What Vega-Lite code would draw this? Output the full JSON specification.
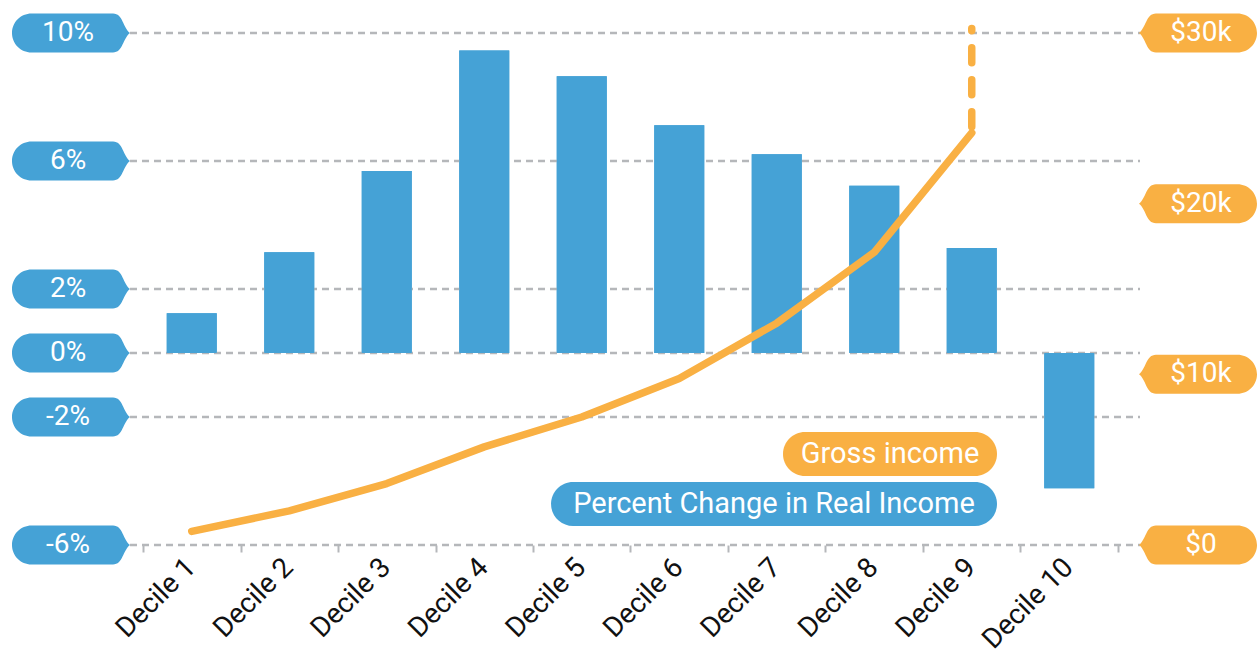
{
  "$schema": "https://vega.github.io/schema/vega-lite/v6.json",
  "width": 1259,
  "height": 545,
  "autosize": {"type": "none"},
  "padding": {"left": 0, "top": 0, "right": 0, "bottom": 111},
  "config": {"view": {"stroke": null}, "font": "Roboto", "scale": {"continuousPadding": 0}},
  "datasets": {
    "deciles": [
      {"decile": "Decile 1", "i": 1, "pct": 1.24, "income": 0.8},
      {"decile": "Decile 2", "i": 2, "pct": 3.15, "income": 2.0},
      {"decile": "Decile 3", "i": 3, "pct": 5.69, "income": 3.6},
      {"decile": "Decile 4", "i": 4, "pct": 9.45, "income": 5.75},
      {"decile": "Decile 5", "i": 5, "pct": 8.65, "income": 7.5},
      {"decile": "Decile 6", "i": 6, "pct": 7.12, "income": 9.75},
      {"decile": "Decile 7", "i": 7, "pct": 6.21, "income": 13.0},
      {"decile": "Decile 8", "i": 8, "pct": 5.23, "income": 17.15},
      {"decile": "Decile 9", "i": 9, "pct": 3.28, "income": 24.15},
      {"decile": "Decile 10", "i": 10, "pct": -4.23}
    ],
    "extension": [{"i": 9, "from": 24.5, "to": 30.26}],
    "pctTicks": [
      {"pct": 10, "label": "10%"},
      {"pct": 6, "label": "6%"},
      {"pct": 2, "label": "2%"},
      {"pct": 0, "label": "0%"},
      {"pct": -2, "label": "-2%"},
      {"pct": -6, "label": "-6%"}
    ],
    "usdTicks": [
      {"usd": 30, "label": "$30k"},
      {"usd": 20, "label": "$20k"},
      {"usd": 10, "label": "$10k"},
      {"usd": 0, "label": "$0"}
    ],
    "legend": [{"gross": "Gross income", "pctc": "Percent Change in Real Income"}]
  },
  "resolve": {"scale": {"y": "independent"}},
  "layer": [
    {
      "data": {"name": "deciles"},
      "mark": {"type": "bar", "width": 50, "color": "#45a2d6"},
      "encoding": {
        "x": {
          "field": "i", "type": "quantitative", "title": null,
          "scale": {"domain": [-0.9667, 11.9462], "nice": false, "zero": false, "padding": 0},
          "axis": {
            "values": [0.5, 1.5, 2.5, 3.5, 4.5, 5.5, 6.5, 7.5, 8.5, 9.5, 10.5],
            "labelExpr": "datum.value < 10 ? 'Decile ' + (datum.value + 0.5) : ''",
            "labelOffset": 38,
            "labelAngle": -45,
            "labelFontSize": 28,
            "labelFont": "Roboto",
            "labelColor": "#111111",
            "labelPadding": 1,
            "labelOverlap": false,
            "labelBound": false,
            "labelFlush": false,
            "tickColor": "#b5b7ba",
            "tickSize": 7,
            "tickWidth": 2,
            "domain": false,
            "grid": false,
            "title": null
          }
        },
        "y": {"field": "pct", "type": "quantitative", "scale": {"domain": [-6, 11.03125], "nice": false, "zero": false}, "axis": null},
        "y2": {"datum": 0}
      }
    },
    {
      "data": {"name": "pctTicks"},
      "mark": {"type": "rule", "color": "#b5b7ba", "strokeWidth": 2.5, "strokeDash": [7, 5]},
      "encoding": {
        "x": {"datum": 0.3667, "type": "quantitative", "title": null, "scale": {"domain": [-0.9667, 11.9462], "nice": false, "zero": false, "padding": 0}},
        "x2": {"datum": 10.7256},
        "y": {"field": "pct", "type": "quantitative", "scale": {"domain": [-6, 11.03125], "nice": false, "zero": false}, "axis": null}
      }
    },
    {
      "data": {"name": "deciles"},
      "mark": {"type": "bar", "width": 50, "color": "#45a2d6"},
      "encoding": {
        "x": {"field": "i", "type": "quantitative", "title": null, "scale": {"domain": [-0.9667, 11.9462], "nice": false, "zero": false, "padding": 0}},
        "y": {"field": "pct", "type": "quantitative", "scale": {"domain": [-6, 11.03125], "nice": false, "zero": false}, "axis": null},
        "y2": {"datum": 0}
      }
    },
    {
      "data": {"name": "deciles"},
      "transform": [{"filter": "isValid(datum.income)"}],
      "mark": {"type": "line", "color": "#f9b043", "strokeWidth": 7.5, "strokeCap": "round", "strokeJoin": "round"},
      "encoding": {
        "x": {"field": "i", "type": "quantitative", "title": null, "scale": {"domain": [-0.9667, 11.9462], "nice": false, "zero": false, "padding": 0}},
        "y": {"field": "income", "type": "quantitative", "scale": {"domain": [0, 31.934], "nice": false, "zero": false}, "axis": null}
      }
    },
    {
      "data": {"name": "extension"},
      "mark": {"type": "rule", "color": "#f9b043", "strokeWidth": 7.5, "strokeCap": "round", "strokeDash": [15, 17]},
      "encoding": {
        "x": {"field": "i", "type": "quantitative", "title": null, "scale": {"domain": [-0.9667, 11.9462], "nice": false, "zero": false, "padding": 0}},
        "y": {"field": "from", "type": "quantitative", "scale": {"domain": [0, 31.934], "nice": false, "zero": false}, "axis": null},
        "y2": {"field": "to"}
      }
    },
    {
      "data": {"name": "pctTicks"},
      "mark": {"type": "point", "filled": true, "opacity": 1, "color": "#45a2d6", "size": 13924, "strokeWidth": 0,
        "shape": "M -0.6695 -0.3305 L 0.712 -0.3305 C 0.881 -0.3305 0.881 -0.0847 1 0 C 0.881 0.0847 0.881 0.3305 0.712 0.3305 L -0.6695 0.3305 C -0.852 0.3305 -1 0.1825 -1 0 C -1 -0.1825 -0.852 -0.3305 -0.6695 -0.3305 Z"},
      "encoding": {
        "x": {"datum": -0.2385, "type": "quantitative", "title": null, "scale": {"domain": [-0.9667, 11.9462], "nice": false, "zero": false, "padding": 0}},
        "y": {"field": "pct", "type": "quantitative", "scale": {"domain": [-6, 11.03125], "nice": false, "zero": false}, "axis": null}
      }
    },
    {
      "data": {"name": "pctTicks"},
      "mark": {"type": "text", "color": "white", "fontSize": 28, "font": "Roboto", "align": "center", "baseline": "middle"},
      "encoding": {
        "x": {"datum": -0.269, "type": "quantitative", "title": null, "scale": {"domain": [-0.9667, 11.9462], "nice": false, "zero": false, "padding": 0}},
        "y": {"field": "pct", "type": "quantitative", "scale": {"domain": [-6, 11.03125], "nice": false, "zero": false}, "axis": null},
        "text": {"field": "label"}
      }
    },
    {
      "data": {"name": "usdTicks"},
      "mark": {"type": "point", "filled": true, "opacity": 1, "color": "#f9b043", "size": 13924, "strokeWidth": 0,
        "shape": "M 0.6695 -0.3305 L -0.712 -0.3305 C -0.881 -0.3305 -0.881 -0.0847 -1 0 C -0.881 0.0847 -0.881 0.3305 -0.712 0.3305 L 0.6695 0.3305 C 0.852 0.3305 1 0.1825 1 0 C 1 -0.1825 0.852 -0.3305 0.6695 -0.3305 Z"},
      "encoding": {
        "x": {"datum": 11.3205, "type": "quantitative", "title": null, "scale": {"domain": [-0.9667, 11.9462], "nice": false, "zero": false, "padding": 0}},
        "y": {"field": "usd", "type": "quantitative", "scale": {"domain": [0, 31.934], "nice": false, "zero": false}, "axis": null}
      }
    },
    {
      "data": {"name": "usdTicks"},
      "mark": {"type": "text", "color": "white", "fontSize": 28, "font": "Roboto", "align": "center", "baseline": "middle"},
      "encoding": {
        "x": {"datum": 11.351, "type": "quantitative", "title": null, "scale": {"domain": [-0.9667, 11.9462], "nice": false, "zero": false, "padding": 0}},
        "y": {"field": "usd", "type": "quantitative", "scale": {"domain": [0, 31.934], "nice": false, "zero": false}, "axis": null},
        "text": {"field": "label"}
      }
    },
    {
      "data": {"name": "legend"},
      "mark": {"type": "rect", "color": "#f9b043", "cornerRadius": 22},
      "encoding": {
        "x": {"datum": 7.064, "type": "quantitative", "title": null, "scale": {"domain": [-0.9667, 11.9462], "nice": false, "zero": false, "padding": 0}},
        "x2": {"datum": 9.259},
        "y": {"datum": -2.469, "type": "quantitative", "scale": {"domain": [-6, 11.03125], "nice": false, "zero": false}, "axis": null},
        "y2": {"datum": -3.844}
      }
    },
    {
      "data": {"name": "legend"},
      "mark": {"type": "rect", "color": "#45a2d6", "cornerRadius": 22},
      "encoding": {
        "x": {"datum": 4.685, "type": "quantitative", "title": null, "scale": {"domain": [-0.9667, 11.9462], "nice": false, "zero": false, "padding": 0}},
        "x2": {"datum": 9.259},
        "y": {"datum": -4.031, "type": "quantitative", "scale": {"domain": [-6, 11.03125], "nice": false, "zero": false}, "axis": null},
        "y2": {"datum": -5.406}
      }
    },
    {
      "data": {"name": "legend"},
      "mark": {"type": "text", "color": "white", "fontSize": 29, "font": "Roboto", "align": "center", "baseline": "middle"},
      "encoding": {
        "x": {"datum": 8.162, "type": "quantitative", "title": null, "scale": {"domain": [-0.9667, 11.9462], "nice": false, "zero": false, "padding": 0}},
        "y": {"datum": -3.156, "type": "quantitative", "scale": {"domain": [-6, 11.03125], "nice": false, "zero": false}, "axis": null},
        "text": {"field": "gross"}
      }
    },
    {
      "data": {"name": "legend"},
      "mark": {"type": "text", "color": "white", "fontSize": 29, "font": "Roboto", "align": "center", "baseline": "middle"},
      "encoding": {
        "x": {"datum": 6.972, "type": "quantitative", "title": null, "scale": {"domain": [-0.9667, 11.9462], "nice": false, "zero": false, "padding": 0}},
        "y": {"datum": -4.719, "type": "quantitative", "scale": {"domain": [-6, 11.03125], "nice": false, "zero": false}, "axis": null},
        "text": {"field": "pctc"}
      }
    }
  ]
}
